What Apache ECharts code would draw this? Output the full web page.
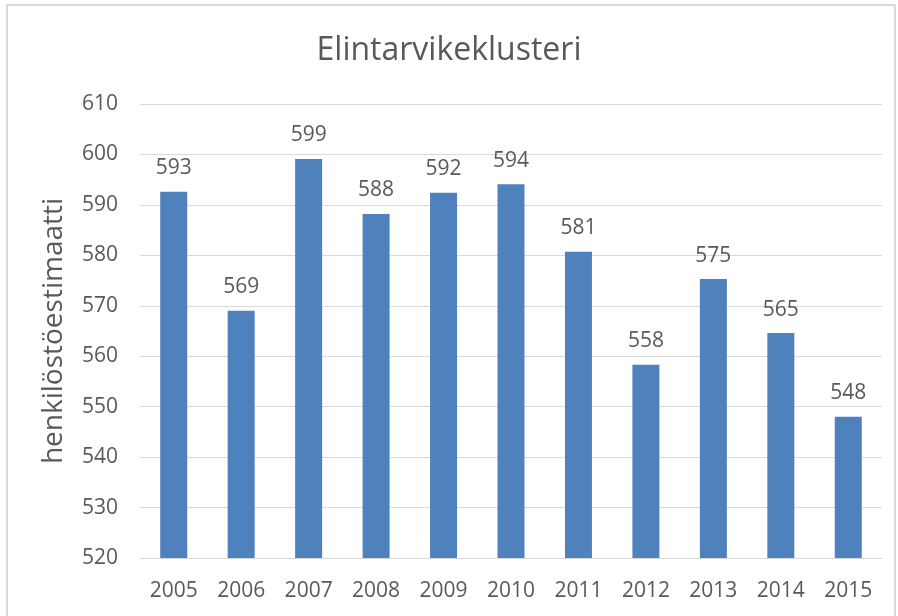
<!DOCTYPE html>
<html>
<head>
<meta charset="utf-8">
<script src="https://cdn.jsdelivr.net/npm/echarts@6/dist/echarts.min.js"></script>
<style>
    html, body { margin: 0; padding: 0; background: #fff; }
    #frame { position: absolute; left: 6px; top: 4px; width: 890px; height: 640px;
             border: 2px solid #d9d9d9; border-bottom: none; box-sizing: border-box; }
    #main { position: absolute; left: 0; top: 0; width: 898px; height: 616px; }
</style>
</head>
<body>
<div id="frame"></div>
<div id="main"></div>
<script>
let years = ['2005', '2006', '2007', '2008', '2009', '2010', '2011', '2012', '2013', '2014', '2015'];
let values = [592.6, 569.0, 599.1, 588.2, 592.4, 594.1, 580.7, 558.3, 575.3, 564.6, 548.0];
let yTicks = [520, 530, 540, 550, 560, 570, 580, 590, 600, 610];

let myChart = echarts.init(document.getElementById('main'));
let textColor = '#595959';
let option = {
    animation: false,
    title: {
        text: 'Elintarvikeklusteri',
        left: 'center',
        top: 30,
        textStyle: {
            fontFamily: 'Open Sans',
            fontSize: 32,
            fontWeight: 'normal',
            color: textColor
        }
    },
    grid: {
        left: 140,
        right: 16,
        top: 104,
        bottom: 58
    },
    xAxis: {
        type: 'category',
        data: years,
        axisLine: { lineStyle: { color: '#d9d9d9' } },
        axisTick: { show: false },
        axisLabel: {
            margin: 23,
            fontFamily: 'Open Sans',
            fontSize: 21,
            color: textColor
        }
    },
    yAxis: {
        type: 'value',
        min: yTicks[0],
        max: yTicks[yTicks.length - 1],
        interval: 10,
        name: 'henkilöstöestimaatti',
        nameLocation: 'middle',
        nameGap: 72,
        nameTextStyle: {
            fontFamily: 'Open Sans',
            fontSize: 28,
            color: textColor
        },
        axisLine: { show: false },
        axisTick: { show: false },
        axisLabel: {
            margin: 22,
            fontFamily: 'Open Sans',
            fontSize: 21,
            color: textColor
        },
        splitLine: { lineStyle: { color: '#d9d9d9' } }
    },
    series: [
        {
            name: 'henkilöstöestimaatti',
            type: 'bar',
            data: values,
            barWidth: 27,
            itemStyle: { color: '#4f81bd' },
            label: {
                show: true,
                position: 'top',
                distance: 13,
                fontFamily: 'Open Sans',
                fontSize: 21,
                color: textColor,
                formatter: function (p) {
                    return Math.round(p.value);
                }
            }
        }
    ]
};
myChart.setOption(option);
</script>
</body>
</html>
